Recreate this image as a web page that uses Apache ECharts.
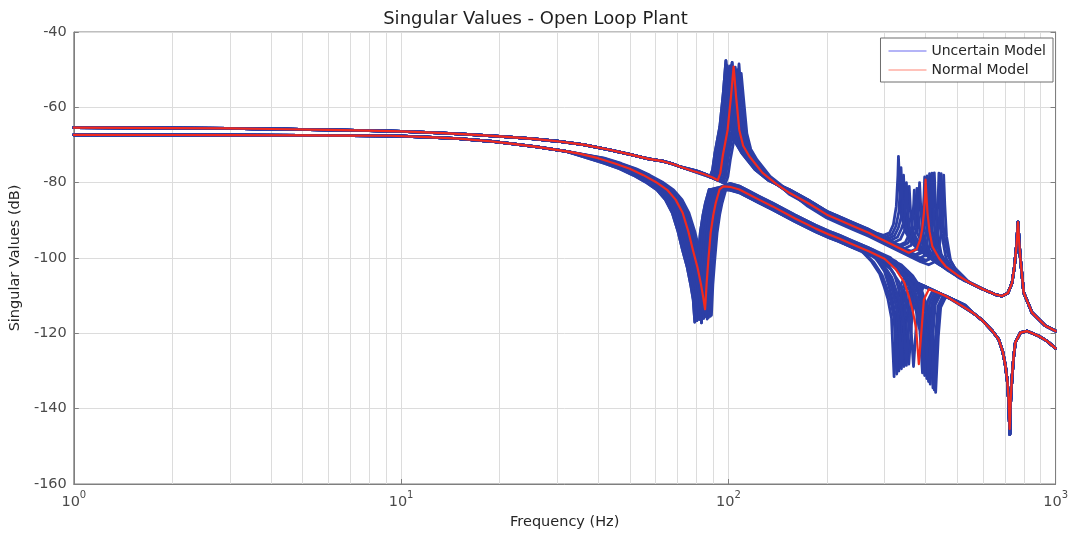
<!DOCTYPE html>
<html>
<head>
<meta charset="utf-8">
<title>Singular Values - Open Loop Plant</title>
<script src="https://cdn.jsdelivr.net/npm/echarts@6.0.0/dist/echarts.min.js"></script>
<style>
  html, body { margin: 0; padding: 0; background: #ffffff; }
  #chart { width: 1071px; height: 535px; }
</style>
</head>
<body>
<div id="chart"></div>
<script>
// ---- Singular value curves, points are [frequency (Hz), magnitude (dB)] ----

// Largest singular value, common low-frequency part
const s1Low = [[1,-65.4],[1.5,-65.45],[2,-65.5],[3,-65.6],[4,-65.75],[6,-66.0],[8,-66.2],[10,-66.4],[13,-66.8],[16,-67.2],[20,-67.7],[25,-68.3],[30,-69.0],[36,-69.9],[43,-71.2],[50,-72.5],[57,-73.7],[63,-74.3],[68,-75.1],[72,-75.9]];

// Largest singular value, nominal plant around the ~100 Hz mode
const s1ModeANominal = [[78,-76.9],[84,-77.7],[90,-78.7],[92.8,-79.4],[94.5,-77.5],[96.1,-73],[99.5,-66],[101.9,-57.1],[103.8,-49.2],[105.6,-57.1],[108,-66],[111,-70.2],[115.9,-73],[127.2,-77.4],[140,-80.3],[153.5,-82.7],[175,-85.4],[200,-88.5],[218,-89.9],[240,-91.5],[268.5,-93.3]];

// Largest singular value, nominal plant around the ~400 Hz mode
const s1ModeBNominal = [[281,-94.2],[300,-95.4],[330,-97.2],[356,-98.6],[376,-97.7],[386,-95],[391,-92.4],[396,-88],[399,-83.6],[400.6,-79.2],[403,-83.5],[406,-88],[412,-93],[420,-96.9],[440,-100],[461,-102.2],[500,-104.5]];

// Largest singular value, common high-frequency part (mode near 770 Hz)
const s1Tail = [[545,-106.5],[600,-108.3],[655,-109.7],[686,-110.1],[715,-109.3],[736,-106.6],[748,-102.5],[760,-96.5],[764,-93.3],[767.5,-90.5],[771,-93.3],[775,-96.5],[781,-100.4],[799,-109.2],[847,-114.5],[930,-118],[1000,-119.4]];

// Largest singular value, uncertain samples around the ~100 Hz mode
const s1ModeASamples = [
  [[79.5,-76.8],[85.2,-77.8],[87.9,-78.5],[89.5,-76.6],[91.0,-72.1],[94.2,-65.1],[96.5,-56.2],[98.3,-47.6],[100.0,-56.2],[102.3,-65.1],[105.1,-69.3],[109.8,-72.1],[120.5,-76.5],[132.6,-79.4],[153.5,-81.8],[175,-84.5],[200,-87.6],[218,-89.0],[240,-90.6],[268.5,-92.4]],
  [[80.4,-76.9],[86.1,-77.9],[88.8,-78.6],[90.4,-76.7],[92.0,-72.2],[95.2,-65.2],[97.5,-56.3],[99.3,-49.0],[101.1,-56.3],[103.4,-65.2],[106.2,-69.4],[110.9,-72.2],[121.7,-76.6],[134.0,-79.5],[153.5,-81.9],[175,-84.6],[200,-87.7],[218,-89.1],[240,-90.7],[268.5,-92.5]],
  [[81.3,-77.1],[87.1,-78.1],[89.8,-78.8],[91.5,-76.9],[93.0,-72.4],[96.3,-65.4],[98.6,-56.5],[100.5,-50.0],[102.2,-56.5],[104.5,-65.4],[107.4,-69.6],[112.2,-72.4],[123.1,-76.8],[135.5,-79.7],[153.5,-82.1],[175,-84.8],[200,-87.9],[218,-89.3],[240,-90.9],[268.5,-92.7]],
  [[82.2,-77.3],[88.0,-78.3],[90.8,-79.0],[92.4,-77.1],[94.0,-72.6],[97.3,-65.6],[99.7,-56.7],[101.5,-49.0],[103.3,-56.7],[105.6,-65.6],[108.6,-69.8],[113.4,-72.6],[124.4,-77.0],[136.9,-79.9],[153.5,-82.3],[175,-85.0],[200,-88.1],[218,-89.5],[240,-91.1],[268.5,-92.9]],
  [[83.1,-77.5],[89.0,-78.5],[91.8,-79.2],[93.5,-77.3],[95.0,-72.8],[98.4,-65.8],[100.8,-56.9],[102.7,-48.1],[104.4,-56.9],[106.8,-65.8],[109.8,-70.0],[114.6,-72.8],[125.8,-77.2],[138.5,-80.1],[153.5,-82.5],[175,-85.2],[200,-88.3],[218,-89.7],[240,-91.3],[268.5,-93.1]],
  [[83.8,-77.7],[89.8,-78.7],[92.6,-79.4],[94.3,-77.5],[95.9,-73.0],[99.3,-66.0],[101.7,-57.1],[103.6,-49.5],[105.4,-57.1],[107.8,-66.0],[110.8,-70.2],[115.7,-73.0],[126.9,-77.4],[139.7,-80.3],[153.5,-82.7],[175,-85.4],[200,-88.5],[218,-89.9],[240,-91.5],[268.5,-93.3]],
  [[85.0,-77.9],[91.1,-78.9],[93.9,-79.6],[95.6,-77.7],[97.3,-73.2],[100.7,-66.2],[103.1,-57.3],[105.0,-49.3],[106.9,-57.3],[109.3,-66.2],[112.3,-70.4],[117.3,-73.2],[128.7,-77.6],[141.7,-80.5],[153.5,-82.9],[175,-85.6],[200,-88.7],[218,-90.1],[240,-91.7],[268.5,-93.5]],
  [[86.2,-78.1],[92.3,-79.1],[95.2,-79.8],[97.0,-77.9],[98.6,-73.4],[102.1,-66.4],[104.5,-57.5],[106.5,-50.0],[108.3,-57.5],[110.8,-66.4],[113.9,-70.6],[118.9,-73.4],[130.5,-77.8],[143.6,-80.7],[153.5,-83.1],[175,-85.8],[200,-88.9],[218,-90.3],[240,-91.9],[268.5,-93.7]],
  [[87.3,-78.4],[93.5,-79.4],[96.4,-80.1],[98.2,-78.2],[99.8,-73.7],[103.4,-66.7],[105.9,-57.8],[107.8,-48.5],[109.7,-57.8],[112.2,-66.7],[115.3,-70.9],[120.4,-73.7],[132.2,-78.1],[145.5,-81.0],[175,-86.1],[200,-89.2],[218,-90.6],[240,-92.2],[268.5,-94.0]],
  [[88.6,-78.6],[95.0,-79.6],[97.9,-80.3],[99.7,-78.4],[101.4,-73.9],[105.0,-66.9],[107.5,-58.0],[109.5,-51.0],[111.4,-58.0],[113.9,-66.9],[117.1,-71.1],[122.3,-73.9],[134.2,-78.3],[147.7,-81.2],[175,-86.3],[200,-89.4],[218,-90.8],[240,-92.4],[268.5,-94.2]]
];

// Largest singular value, uncertain samples around the ~400 Hz mode
const s1ModeBSamples = [
  [[281.4,-93.3],[297.9,-94.0],[311.1,-93.3],[319.4,-91.1],[326.0,-86.3],[329.7,-78.1],[331,-73.0],[333.6,-80.5],[337.6,-88.6],[347.6,-93.0],[364.1,-96.1],[384,-98.1],[430,-100.7],[490,-103.6]],
  [[291.6,-94.0],[308.7,-94.8],[322.4,-94.0],[331.0,-91.9],[337.9,-88.9],[341.6,-82.2],[343,-78.0],[345.7,-84.2],[349.9,-90.9],[360.2,-93.8],[377.3,-96.9],[397.9,-98.9],[440,-101.7],[495,-104.2]],
  [[303.5,-95.0],[321.3,-95.8],[335.6,-95.0],[344.5,-92.9],[351.6,-90.6],[355.6,-84.7],[357,-81.0],[359.9,-86.6],[364.1,-92.5],[374.9,-94.7],[392.7,-97.8],[414.1,-99.8],[455,-102.5],[505,-104.7]],
  [[290,-94.3],[314.5,-95.9],[333,-96.6],[347.8,-95.8],[357.1,-93.7],[364.5,-91.4],[368.5,-85.6],[370,-82.0],[373.0,-87.4],[377.4,-93.3],[388.5,-95.6],[407,-98.7],[429.2,-100.7],[470,-103.4],[515,-105.3]],
  [[295,-94.9],[326.4,-96.8],[345.6,-97.5],[361,-96.7],[370.6,-94.6],[378.2,-90.9],[382.5,-84.2],[384,-80.0],[387.1,-86.2],[391.7,-93.0],[403.2,-96.5],[422.4,-99.6],[445.4,-101.6],[485,-104.1],[530,-106.0]],
  [[300,-95.4],[338.3,-97.6],[358.2,-98.4],[374.1,-97.6],[384.1,-95.5],[392.0,-90.7],[396.4,-83.2],[398,-78.5],[401.2,-85.4],[406,-92.8],[417.9,-97.4],[437.8,-100.4],[461.7,-102.4],[500,-104.9]],
  [[300,-95.6],[350.2,-98.5],[370.8,-99.2],[387.3,-98.4],[397.6,-96.3],[405.8,-90.6],[410.4,-82.6],[412,-77.6],[415.3,-85.0],[420.2,-92.9],[432.6,-98.2],[453.2,-101.3],[477.9,-103.3],[510,-105.4]],
  [[300,-95.8],[362.1,-99.3],[383.4,-100.1],[400.4,-99.3],[411.1,-97.2],[419.6,-90.8],[424.3,-82.6],[426,-77.4],[429.4,-85.1],[434.5,-93.2],[447.3,-99.0],[468.6,-102.1],[494.2,-104.1],[525,-106.0]],
  [[300,-96.1],[374,-100.2],[396,-101.0],[413.6,-100.2],[424.6,-98.1],[433.4,-91.2],[438.2,-82.7],[440,-77.5],[443.5,-85.3],[448.8,-93.6],[462,-99.9],[484,-103.0],[510.4,-105.0]],
  [[300,-96.3],[386.8,-101.0],[409.5,-101.8],[427.7,-101.0],[439.1,-98.9],[448.2,-91.8],[453.2,-83.3],[455,-78.0],[458.6,-85.8],[464.1,-94.2],[477.8,-100.8],[500.5,-103.8],[527.8,-105.8]],
  [[286.5,-93.6],[303.3,-94.4],[316.8,-93.6],[325.2,-91.5],[331.9,-87.8],[335.7,-80.5],[337,-76.0],[339.7,-82.7],[343.7,-89.9],[353.9,-93.4],[370.7,-96.4],[390.9,-98.4],[435,-101.4],[492,-104.1]],
  [[297.5,-94.4],[315,-95.2],[329,-94.4],[337.8,-92.3],[344.8,-90.0],[348.6,-83.8],[350,-80.0],[352.8,-85.7],[357,-91.8],[367.5,-94.2],[385,-97.2],[406,-99.2],[447,-102.0],[500,-104.4]],
  [[295,-94.5],[320.5,-96.0],[339.3,-96.8],[354.4,-96.0],[363.8,-93.9],[371.3,-91.4],[375.5,-85.3],[377,-81.5],[380,-87.2],[384.5,-93.3],[395.9,-95.8],[414.7,-98.8],[437.3,-100.8],[480,-103.8],[520,-105.5]],
  [[300,-95.0],[344.3,-97.5],[364.5,-98.3],[380.7,-97.5],[390.8,-95.4],[398.9,-90.7],[403.4,-83.0],[405,-78.2],[408.2,-85.3],[413.1,-92.9],[425.3,-97.3],[445.5,-100.4],[469.8,-102.4],[515,-105.3]],
  [[300,-95.2],[356.2,-98.4],[377.1,-99.2],[393.9,-98.4],[404.3,-96.3],[412.7,-90.7],[417.3,-82.5],[419,-77.5],[422.4,-85.1],[427.4,-93.1],[440,-98.1],[460.9,-101.2],[486,-103.2],[525,-105.7]],
  [[300,-95.4],[380,-99.8],[402.3,-100.6],[420.2,-99.8],[431.4,-97.7],[440.3,-91.4],[445.2,-82.9],[447,-77.6],[450.6,-85.5],[455.9,-93.9],[469.4,-99.5],[491.7,-102.6],[518.5,-104.6]]
];

// Smallest singular value, common low-frequency part
const s2Low = [[1,-67.3],[2,-67.35],[3,-67.4],[5,-67.45],[7,-67.5],[9.3,-67.55],[12,-67.9],[15,-68.3],[18.7,-69.0],[22,-69.7],[26,-70.5],[32,-71.7]];

// Smallest singular value, nominal plant around the ~85 Hz anti-resonance
const s2ModeANominal = [[35,-72.3],[40,-73.5],[45,-74.9],[50,-76.3],[55,-78.0],[60,-79.8],[65,-81.9],[69,-84.5],[72.5,-88],[75.5,-93],[78,-98],[80.5,-102.5],[82.5,-107],[84,-111],[84.9,-113.6],[85.8,-107],[86.8,-101],[88.3,-93.3],[90,-88.5],[91.5,-85.4],[94,-81.8],[96.5,-81],[101,-81.1],[108,-81.8],[116,-83.2],[124,-84.5],[136.5,-86.3],[160,-89.5],[185,-92.2],[203.5,-93.8],[218,-94.8],[240,-96.4]];

// Smallest singular value, nominal plant around the ~380 Hz anti-resonance
const s2ModeBNominal = [[268.5,-98.2],[300,-100.2],[325,-103.0],[345,-106.5],[356,-110.1],[366,-114.0],[375,-118.9],[382,-128.2],[389.5,-118.9],[396,-111.0],[410,-108.3],[440,-109.3],[461,-110.1],[518,-112.7]];

// Smallest singular value, high-frequency part (anti-resonance near 725 Hz)
const s2TailNominal = [[560,-114.6],[596,-116.5],[640,-119.3],[670,-121.6],[690,-125.0],[702.6,-128.6],[712,-132.5],[718.6,-137.5],[724,-145.4],[729,-137.5],[736,-131.5],[745,-126.0],[753.6,-122.4],[781,-119.8],[817.6,-119.4],[887.6,-120.7],[940,-122.0],[1000,-124.0]];
const s2TailSamples = [[560,-114.6],[596,-116.5],[640,-119.3],[670,-121.6],[690,-125.0],[702.6,-128.6],[712,-132.7],[718.6,-138.0],[724.5,-146.8],[729,-138.0],[736,-131.8],[745,-126.0],[753.6,-122.4],[781,-119.8],[817.6,-119.4],[887.6,-120.7],[940,-122.0],[1000,-124.0]];

// Smallest singular value, uncertain samples around the ~85 Hz anti-resonance
const s2ModeASamples = [
  [[37.2,-73.5],[41.9,-74.9],[46.5,-76.3],[51.2,-78.0],[55.8,-79.8],[60.5,-81.9],[64.2,-84.5],[67.4,-88.0],[70.2,-93.0],[72.5,-98.0],[74.9,-102.5],[76.7,-107.0],[78.1,-111.0],[79.0,-117.0],[79.8,-107.0],[80.7,-101.0],[82.1,-93.3],[83.7,-88.5],[85.1,-85.4],[87.4,-81.8],[101,-81.9],[108,-82.6],[116,-84.0],[124,-85.3],[136.5,-87.1],[160,-90.3],[185,-93.0],[203.5,-94.6],[218,-95.6],[240,-97.2]],
  [[37.8,-73.5],[42.5,-74.9],[47.3,-76.3],[52.0,-78.0],[56.7,-79.8],[61.4,-81.9],[65.2,-84.5],[68.5,-88.0],[71.3,-93.0],[73.7,-98.0],[76.1,-102.5],[78.0,-107.0],[79.4,-111.0],[80.2,-116.6],[81.1,-107.0],[82.0,-101.0],[83.4,-93.3],[85.1,-88.5],[86.5,-85.4],[88.8,-81.8],[101,-80.6],[108,-81.3],[116,-82.7],[124,-84.0],[136.5,-85.8],[160,-89.0],[185,-91.7],[203.5,-93.3],[218,-94.3],[240,-95.9]],
  [[38.4,-73.5],[43.2,-74.9],[48.0,-76.3],[52.8,-78.0],[57.6,-79.8],[62.4,-81.9],[66.2,-84.5],[69.6,-88.0],[72.5,-93.0],[74.9,-98.0],[77.3,-102.5],[79.2,-107.0],[80.6,-111.0],[81.5,-116.3],[82.4,-107.0],[83.3,-101.0],[84.8,-93.3],[86.4,-88.5],[87.8,-85.4],[90.2,-81.8],[101,-81.4],[108,-82.1],[116,-83.5],[124,-84.8],[136.5,-86.6],[160,-89.8],[185,-92.5],[203.5,-94.1],[218,-95.1],[240,-96.7]],
  [[39.0,-73.5],[43.9,-74.9],[48.8,-76.3],[53.6,-78.0],[58.5,-79.8],[63.4,-81.9],[67.3,-84.5],[70.7,-88.0],[73.6,-93.0],[76.1,-98.0],[78.5,-102.5],[80.4,-107.0],[81.9,-111.0],[82.8,-117.2],[83.7,-107.0],[84.6,-101.0],[86.1,-93.3],[87.8,-88.5],[89.2,-85.4],[91.7,-81.8],[101,-80.2],[108,-80.9],[116,-82.3],[124,-83.6],[136.5,-85.4],[160,-88.6],[185,-91.3],[203.5,-92.9],[218,-93.9],[240,-95.5]],
  [[39.6,-73.5],[44.6,-74.9],[49.5,-76.3],[54.5,-78.0],[59.4,-79.8],[64.4,-81.9],[68.3,-84.5],[71.8,-88.0],[74.7,-93.0],[77.2,-98.0],[79.7,-102.5],[81.7,-107.0],[83.2,-111.0],[84.1,-116.0],[84.9,-107.0],[85.9,-101.0],[87.4,-93.3],[89.1,-88.5],[90.6,-85.4],[93.1,-81.8],[101,-81.7],[108,-82.4],[116,-83.8],[124,-85.1],[136.5,-86.9],[160,-90.1],[185,-92.8],[203.5,-94.4],[218,-95.4],[240,-97.0]],
  [[40.2,-73.5],[45.2,-74.9],[50.3,-76.3],[55.3,-78.0],[60.3,-79.8],[65.3,-81.9],[69.3,-84.5],[72.9,-88.0],[75.9,-93.0],[78.4,-98.0],[80.9,-102.5],[82.9,-107.0],[84.4,-111.0],[85.3,-115.5],[86.2,-107.0],[87.2,-101.0],[88.7,-93.3],[90.5,-88.5],[92.0,-85.4],[94.5,-81.8],[101,-80.9],[108,-81.6],[116,-83.0],[124,-84.3],[136.5,-86.1],[160,-89.3],[185,-92.0],[203.5,-93.6],[218,-94.6],[240,-96.2]],
  [[40.6,-73.5],[45.7,-74.9],[50.8,-76.3],[55.8,-78.0],[60.9,-79.8],[66.0,-81.9],[70.0,-84.5],[73.6,-88.0],[76.6,-93.0],[79.2,-98.0],[81.7,-102.5],[83.7,-107.0],[85.3,-111.0],[86.2,-116.2],[87.1,-107.0],[88.1,-101.0],[89.6,-93.3],[91.4,-88.5],[92.9,-85.4],[95.4,-81.8],[101,-82.0],[108,-82.7],[116,-84.1],[124,-85.4],[136.5,-87.2],[160,-90.4],[185,-93.1],[203.5,-94.7],[218,-95.7],[240,-97.3]],
  [[41.0,-73.5],[46.1,-74.9],[51.3,-76.3],[56.4,-78.0],[61.5,-79.8],[66.6,-81.9],[70.7,-84.5],[74.3,-88.0],[77.4,-93.0],[80.0,-98.0],[82.5,-102.5],[84.6,-107.0],[86.1,-111.0],[87.0,-115.8],[87.9,-107.0],[89.0,-101.0],[90.5,-93.3],[92.3,-88.5],[93.8,-85.4],[96.4,-81.8],[101,-80.5],[108,-81.2],[116,-82.6],[124,-83.9],[136.5,-85.7],[160,-88.9],[185,-91.6],[203.5,-93.2],[218,-94.2],[240,-95.8]],
  [[41.4,-73.5],[46.6,-74.9],[51.8,-76.3],[57.0,-78.0],[62.2,-79.8],[67.3,-81.9],[71.5,-84.5],[75.1,-88.0],[78.2,-93.0],[80.8,-98.0],[83.4,-102.5],[85.5,-107.0],[87.0,-111.0],[88.0,-115.5],[88.9,-107.0],[89.9,-101.0],[91.5,-93.3],[93.2,-88.5],[94.8,-85.4],[97.4,-81.8],[101,-81.3],[108,-82.0],[116,-83.4],[124,-84.7],[136.5,-86.5],[160,-89.7],[185,-92.4],[203.5,-94.0],[218,-95.0],[240,-96.6]],
  [[41.8,-73.5],[47.1,-74.9],[52.3,-76.3],[57.5,-78.0],[62.8,-79.8],[68.0,-81.9],[72.2,-84.5],[75.8,-88.0],[79.0,-93.0],[81.6,-98.0],[84.2,-102.5],[86.3,-107.0],[87.9,-111.0],[88.8,-115.2],[89.7,-107.0],[90.8,-101.0],[92.4,-93.3],[94.1,-88.5],[95.7,-85.4],[98.3,-81.8],[101,-80.7],[108,-81.4],[116,-82.8],[124,-84.1],[136.5,-85.9],[160,-89.1],[185,-91.8],[203.5,-93.4],[218,-94.4],[240,-96.0]]
];

// Smallest singular value, uncertain samples around the ~380 Hz anti-resonance
const s2ModeBSamples = [
  [[255,-98.1],[273.2,-100.8],[289.9,-104.2],[299.2,-107.6],[307.5,-111.0],[315.2,-115.9],[321,-131.5],[327.1,-115.8],[332.6,-108.0],[344.8,-105.3],[369.2,-106.2],[420,-108.5],[461,-110.1]],
  [[260.6,-97.2],[282.5,-100.1],[299.8,-103.5],[309.4,-107.4],[318.1,-111.6],[326,-116.5],[332,-130.0],[338.3,-116.4],[344,-108.6],[356.6,-105.8],[381.8,-106.8],[430,-108.9],[470,-110.4]],
  [[270,-98.6],[292.7,-101.5],[310.6,-104.9],[320.6,-108.5],[329.6,-112.2],[337.8,-117.1],[344,-128.8],[350.5,-117.0],[356.4,-109.2],[369.5,-106.5],[395.6,-107.4],[440,-109.3],[480,-110.8]],
  [[268.5,-97.3],[279.5,-98.0],[303,-100.9],[321.5,-104.3],[331.8,-108.3],[341,-112.8],[349.6,-117.7],[356,-128.2],[362.8,-117.6],[368.8,-109.8],[382.3,-107.0],[409.4,-108.0],[450,-109.7],[490,-111.2]],
  [[268.5,-98.8],[288.9,-100.1],[313.2,-103.0],[332.3,-106.4],[343,-109.9],[352.5,-113.3],[361.4,-118.3],[368,-128.8],[375,-118.2],[381.2,-110.4],[395.2,-107.6],[423.2,-108.6],[465,-110.2],[500,-111.5]],
  [[268.5,-98.0],[307.7,-100.4],[333.6,-103.3],[354,-106.7],[365.3,-110.5],[375.5,-114.4],[384.9,-119.4],[392,-130.5],[399.4,-119.3],[406.1,-111.5],[421,-108.7],[450.8,-109.7],[500,-111.5]],
  [[268.5,-99.1],[290,-100.4],[317.1,-102.0],[343.8,-104.9],[364.8,-108.3],[376.5,-111.7],[387,-115.0],[396.7,-119.9],[404,-132.0],[411.7,-119.8],[418.5,-112.0],[433.9,-109.2],[464.6,-110.2],[505,-111.7]],
  [[268.5,-97.6],[295,-99.2],[325,-100.9],[352.3,-103.8],[373.8,-107.3],[385.8,-111.1],[396.6,-115.4],[406.5,-120.3],[414,-133.5],[421.9,-120.3],[428.9,-112.4],[444.6,-109.7],[476.1,-110.7],[515,-112.0]],
  [[268.5,-98.4],[300,-100.3],[331.3,-102.1],[359.1,-105.0],[381.1,-108.4],[393.3,-111.9],[404.3,-115.7],[414.4,-120.6],[422,-134.5],[430,-120.6],[437.2,-112.8],[453.2,-110.0],[485.3,-111.0],[525,-112.4]],
  [[268.5,-97.8],[305,-100.0],[337.6,-101.8],[365.9,-104.7],[388.3,-108.1],[400.8,-111.9],[411.9,-116.0],[422.3,-121.0],[430,-135.7],[438.2,-120.9],[445.5,-113.1],[461.8,-110.3],[494.5,-111.3],[530,-112.5]],
  [[256.7,-98.2],[278.3,-101.1],[295.3,-104.6],[304.8,-107.9],[313.3,-111.3],[321.1,-116.2],[327,-130.8],[333.2,-116.2],[338.8,-108.3],[351.2,-105.6],[376.1,-106.6],[425,-108.7],[465,-110.2]],
  [[265.3,-97.5],[287.6,-100.4],[305.2,-103.8],[315,-107.7],[323.8,-111.9],[331.9,-116.8],[338,-129.4],[344.4,-116.7],[350.2,-108.9],[363,-106.1],[388.7,-107.1],[435,-109.1],[475,-110.6]],
  [[274.8,-98.9],[297.9,-101.8],[316.1,-105.2],[326.2,-108.8],[335.3,-112.5],[343.7,-117.4],[350,-128.5],[356.7,-117.3],[362.6,-109.5],[375.9,-106.8],[402.5,-107.7],[445,-109.5],[485,-111.0]],
  [[268.5,-97.3],[290,-98.6],[312.4,-99.9],[338.7,-102.8],[359.4,-106.3],[370.9,-110.2],[381.3,-114.7],[390.8,-119.6],[398,-131.2],[405.6,-119.6],[412.3,-111.8],[427.5,-109.0],[457.7,-110.0],[505,-111.7]],
  [[268.5,-98.8],[292,-100.3],[321.1,-101.9],[348.1,-104.8],[369.3,-108.2],[381.2,-111.7],[391.8,-115.2],[401.6,-120.1],[409,-132.8],[416.8,-120.0],[423.7,-112.2],[439.3,-109.5],[470.4,-110.4],[510,-111.9]],
  [[268.5,-98.0],[302,-100.0],[334.4,-101.8],[362.5,-104.7],[384.7,-108.2],[397,-111.9],[408.1,-115.9],[418.3,-120.8],[426,-135.0],[434.1,-120.8],[441.3,-112.9],[457.5,-110.2],[489.9,-111.2],[528,-112.5]]
];

// Minor frequency grid lines (2..9 of each decade)
const minorGridFreqs = [2,3,4,5,6,7,8,9,20,30,40,50,60,70,80,90,200,300,400,500,600,700,800,900];

// Axis ranges
const freqRange = [1, 1000];
const dbRange = [-160, -40];
const dbStep = 20;

// ---- assemble the curves: each uncertain sample joins one ~100 Hz segment with one ~400 Hz segment ----
const nA1 = s1ModeASamples.length;
const nA2 = s2ModeASamples.length;
const uncertainS1 = s1ModeBSamples.map((b, k) => [...s1Low, ...s1ModeASamples[k % nA1], ...b, ...s1Tail]);
const uncertainS2 = s2ModeBSamples.map((b, k) => [...s2Low, ...s2ModeASamples[k % nA2], ...b, ...s2TailSamples]);
const nominalS1 = [...s1Low, ...s1ModeANominal, ...s1ModeBNominal, ...s1Tail];
const nominalS2 = [...s2Low, ...s2ModeANominal, ...s2ModeBNominal, ...s2TailNominal];

const BLUE = '#2c3fa6';
const RED = '#f22a1e';
const GRID = '#dcdcdc';
const AXIS = '#7f7f7f';
const TEXT = '#4a4a4a';
const FONT = '"DejaVu Sans", "Liberation Sans", Arial, sans-serif';

function curve(name, data, color, width, z) {
  return {
    name: name,
    type: 'line',
    data: data,
    showSymbol: false,
    symbol: 'none',
    silent: true,
    z: z,
    lineStyle: { color: color, width: width, join: 'round', cap: 'round' },
    itemStyle: { color: color },
    emphasis: { disabled: true },
    animation: false
  };
}

const series = [];
series.push({
  name: 'grid',
  type: 'line',
  data: [],
  z: 0,
  silent: true,
  animation: false,
  markLine: {
    z: 0,
    silent: true,
    symbol: ['none', 'none'],
    label: { show: false },
    animation: false,
    lineStyle: { color: GRID, type: 'solid', width: 1 },
    emphasis: { disabled: true },
    data: minorGridFreqs.map(f => ({ xAxis: f }))
  }
});
uncertainS1.forEach(d => series.push(curve('Uncertain Model', d, BLUE, 2.8, 2)));
uncertainS2.forEach(d => series.push(curve('Uncertain Model', d, BLUE, 2.8, 2)));
series.push(curve('Normal Model', nominalS1, RED, 2.2, 3));
series.push(curve('Normal Model', nominalS2, RED, 2.2, 3));

const chart = echarts.init(document.getElementById('chart'), null, { renderer: 'canvas' });
chart.setOption({
  animation: false,
  backgroundColor: '#ffffff',
  textStyle: { fontFamily: FONT },
  title: {
    text: 'Singular Values - Open Loop Plant',
    left: 'center',
    top: 5,
    textStyle: { fontSize: 18, fontWeight: 'normal', color: '#1f1f1f', fontFamily: FONT }
  },
  grid: {
    left: 73, right: 14, top: 32, bottom: 50,
    show: true, borderColor: AXIS, borderWidth: 1, backgroundColor: '#ffffff'
  },
  legend: {
    orient: 'vertical',
    right: 18,
    top: 38,
    padding: [6, 7, 5, 8],
    itemGap: 5,
    itemWidth: 38,
    itemHeight: 1,
    borderColor: '#6e6e6e',
    borderWidth: 1,
    backgroundColor: '#ffffff',
    selectedMode: false,
    z: 10,
    textStyle: { fontSize: 14, color: '#262626', fontFamily: FONT },
    data: [
      { name: 'Uncertain Model', icon: 'rect', itemStyle: { color: '#6b6bf0' } },
      { name: 'Normal Model', icon: 'rect', itemStyle: { color: '#ff8577' } }
    ]
  },
  xAxis: {
    type: 'log',
    logBase: 10,
    min: freqRange[0],
    max: freqRange[1],
    name: 'Frequency (Hz)',
    nameLocation: 'middle',
    nameGap: 31,
    nameTextStyle: { fontSize: 14.5, color: '#262626', fontFamily: FONT },
    axisLine: { show: true, lineStyle: { color: AXIS } },
    axisTick: { show: true, inside: true, length: 5, lineStyle: { color: AXIS } },
    splitLine: { show: true, lineStyle: { color: GRID, width: 1 } },
    axisLabel: {
      color: TEXT,
      margin: 6,
      formatter: v => '{b|10}{e|' + Math.round(Math.log10(v)) + '}',
      rich: {
        b: { fontSize: 14.5, color: TEXT, fontFamily: FONT, lineHeight: 20, verticalAlign: 'bottom' },
        e: { fontSize: 10, color: TEXT, fontFamily: FONT, lineHeight: 12, verticalAlign: 'top' }
      }
    }
  },
  yAxis: [{
    type: 'value',
    min: dbRange[0],
    max: dbRange[1],
    interval: dbStep,
    name: 'Singular Values (dB)',
    nameLocation: 'middle',
    nameRotate: 90,
    nameGap: 42,
    nameTextStyle: { fontSize: 14.5, color: '#262626', fontFamily: FONT },
    axisLine: { show: true, lineStyle: { color: AXIS } },
    axisTick: { show: true, inside: true, length: 5, lineStyle: { color: AXIS } },
    splitLine: { show: true, lineStyle: { color: GRID, width: 1 } },
    axisLabel: { fontSize: 14.5, color: TEXT, margin: 7, fontFamily: FONT }
  }, {
    type: 'value',
    position: 'right',
    min: dbRange[0],
    max: dbRange[1],
    interval: dbStep,
    axisLine: { show: true, lineStyle: { color: AXIS } },
    axisTick: { show: true, inside: true, length: 5, lineStyle: { color: AXIS } },
    splitLine: { show: false },
    axisLabel: { show: false }
  }],
  series: series
});
</script>
</body>
</html>
